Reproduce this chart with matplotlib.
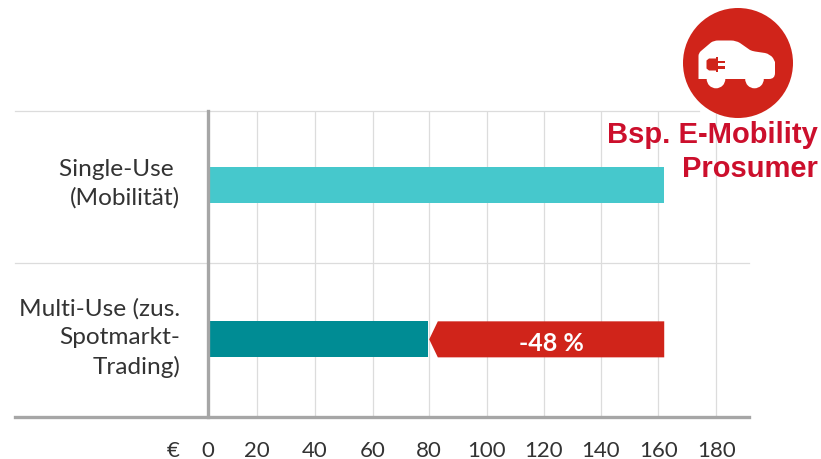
import matplotlib
matplotlib.use("Agg")
import matplotlib.pyplot as plt
from matplotlib.path import Path
from matplotlib.patches import Circle, PathPatch, Polygon, Rectangle
from matplotlib.transforms import ScaledTranslation, blended_transform_factory
import numpy as np

categories = ["Single-Use \n(Mobilität)", "Multi-Use (zus.\nSpotmarkt-\nTrading)"]
single_use = 162
multi_use = 79.5
saving_label = "-48 %"
ticks = [0, 20, 40, 60, 80, 100, 120, 140, 160, 180]
# the printed axis is not evenly spaced near zero
tick_px = [208, 257, 315, 373, 429, 486.5, 543.5, 600.5, 658, 716]

RED = "#D0241A"
TITLE_RED = "#CC0F2C"
GRID = "#DCDCDC"
AXIS = "#A6A6A6"
TEXT = "#333333"
FONT = "Lato"

W, H = 821, 460
plt.rcParams["font.family"] = FONT

fig = plt.figure(figsize=(W / 100, H / 100), dpi=100)
ax = fig.add_axes([208 / W, 1 - 417.5 / H, (749 - 208) / W, (417.5 - 111.5) / H])


def to_px(v):
    # past the last tick the spacing just carries on
    v = np.asarray(v, dtype=float)
    return np.where(v <= 180, np.interp(v, ticks, tick_px), 716 + (v - 180) * 2.875)


def from_px(p):
    p = np.asarray(p, dtype=float)
    return np.where(p <= 716, np.interp(p, tick_px, ticks), 180 + (p - 716) / 2.875)


ax.set_xscale("function", functions=(to_px, from_px))
ax.set_xlim(0, float(from_px(748.5)))
ax.set_ylim(1.50, -0.483)
for s in ax.spines.values():
    s.set_visible(False)

ax.set_xticks(ticks)
ax.set_xticklabels([str(t) for t in ticks], fontsize=16, color=TEXT)
ax.minorticks_off()
ax.set_yticks([0, 1])
ax.set_yticklabels(categories, fontsize=17.6, color=TEXT, ha="right", linespacing=1.43)
ax.tick_params(axis="x", length=0, pad=17)
ax.tick_params(axis="y", length=0, pad=20)
ax.grid(axis="x", color=GRID, lw=0.9, zorder=0)
ax.set_axisbelow(True)

# category labels sit a little above the bar centres
lift = ScaledTranslation(0, 8 / 100, fig.dpi_scale_trans)
for lab in ax.get_yticklabels():
    lab.set_transform(lab.get_transform() + lift)

# horizontal rules run out over the label column
tr = blended_transform_factory(ax.transAxes, ax.transData)
left = (15 - 208) / (749 - 208)
top_end = (699 - 208) / (749 - 208)
ax.plot([left, top_end], [-0.483, -0.483], transform=tr, color=GRID, lw=0.9, clip_on=False, zorder=1)
ax.plot([left, 1], [0.508, 0.508], transform=tr, color=GRID, lw=0.9, clip_on=False, zorder=1)
ax.plot([left, 1], [1.50, 1.50], transform=tr, color=AXIS, lw=2.4, clip_on=False, zorder=3)
ax.axvline(0, color=AXIS, lw=2.4, clip_on=False, zorder=3)

bar_h = 36 / 154.2
ax.barh(0, single_use, height=bar_h, color="#46C8CC", zorder=2)
ax.barh(1, multi_use, height=bar_h, color="#008C94", zorder=2)

# red arrow for the reduction, from the multi-use bar out to the single-use value
tip = 80
shoulder = 83
ax.add_patch(Polygon([(tip, 1), (shoulder, 1 - bar_h / 2), (single_use, 1 - bar_h / 2),
                      (single_use, 1 + bar_h / 2), (shoulder, 1 + bar_h / 2)],
                     closed=True, color=RED, lw=0, zorder=2))
ax.text((shoulder + single_use) / 2, 1.02, saving_label, color="white", fontsize=18,
        fontweight="bold", ha="center", va="center", zorder=4)

# overlay in pixel units for the icon and the heading
ov = fig.add_axes([0, 0, 1, 1])
ov.set_xlim(0, W)
ov.set_ylim(H, 0)
ov.axis("off")
ov.patch.set_alpha(0)

ov.text(173, 451, "€", fontsize=16, color=TEXT, ha="center", va="center")

ov.add_patch(Circle((738, 64), 55, color=RED, lw=0))

# car outline
M, L, C = Path.MOVETO, Path.LINETO, Path.CURVE3
car = [((698.5, 80), M), ((698.5, 57), L), ((698.5, 54), C), ((701, 52), C),
       ((711, 43.5), L), ((714, 41.5), C), ((718, 41.5), C), ((731, 41.5), L),
       ((736, 41.5), C), ((740, 44), C), ((750, 51), L), ((752, 52), C), ((755, 52.5), C),
       ((765, 54), L), ((770, 55), C), ((773, 59), C), ((775, 63), L), ((775, 74), L),
       ((775, 80), C), ((769, 80), C), ((698.5, 80), L)]
ov.add_patch(PathPatch(Path([p for p, c in car], [c for p, c in car]), fc="white", lw=0))
ov.add_patch(Circle((716, 80), 9.3, color="white", lw=0))
ov.add_patch(Circle((754.5, 80), 9.3, color="white", lw=0))

# plug on the car door
ov.add_patch(Polygon([(706.5, 61.5), (709, 59.5), (716, 59.5), (716, 71.5), (709, 71.5), (706.5, 69.5)],
                     closed=True, color=RED, lw=0))
ov.add_patch(Rectangle((715.5, 57.5), 2.5, 15.5, color=RED, lw=0))
ov.add_patch(Rectangle((718, 61.5), 6.5, 2.6, color=RED, lw=0))
ov.add_patch(Rectangle((718, 67.2), 6.5, 2.6, color=RED, lw=0))

ov.text(818, 135, "Bsp. E-Mobility", fontsize=21, fontweight="bold", color=TITLE_RED,
        family="Liberation Sans", ha="right", va="center")
ov.text(818, 169, "Prosumer", fontsize=21, fontweight="bold", color=TITLE_RED,
        family="Liberation Sans", ha="right", va="center")

fig.savefig("out.png", dpi=100)
